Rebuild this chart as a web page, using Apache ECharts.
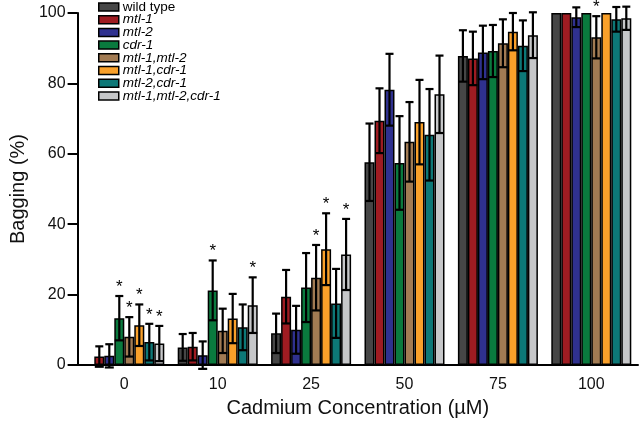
<!DOCTYPE html>
<html>
<head>
<meta charset="utf-8">
<script src="https://cdn.jsdelivr.net/npm/echarts@6/dist/echarts.min.js"></script>
<style>html,body{margin:0;padding:0;background:#fff;}#c{width:640px;height:423px;}</style>
</head>
<body>
<div id="c"></div>
<script>
const categories = ['0', '10', '25', '50', '75', '100'];
const yTicks = [0, 20, 40, 60, 80, 100];

const names = ['wild type', 'mtl-1', 'mtl-2', 'cdr-1', 'mtl-1,mtl-2', 'mtl-1,cdr-1', 'mtl-2,cdr-1', 'mtl-1,mtl-2,cdr-1'];
const colors = ['#464646', '#9f1c22', '#2f318f', '#0a7a3e', '#a27b53', '#f9a02a', '#0d7877', '#c6c7c9'];

const wildType     = [0, 5.0, 9.0, 57.6, 87.8, 100];
const wildTypeErr  = [0, 3.8, 5.6, 11.0, 7.3, 0];
const mtl1         = [2.4, 5.2, 19.4, 69.4, 87.1, 100];
const mtl1Err      = [2.9, 3.9, 7.6, 9.2, 7.6, 0];
const mtl2         = [2.6, 2.8, 10.0, 78.2, 88.8, 98.8];
const mtl2Err      = [3.3, 3.9, 6.8, 10.2, 7.6, 2.8];
const cdr1         = [13.3, 21.2, 22.0, 57.4, 89.2, 100];
const cdr1Err      = [6.3, 8.5, 9.8, 13.3, 7.4, 0];
const mtl1mtl2     = [8.0, 9.7, 24.8, 63.4, 91.4, 93.1];
const mtl1mtl2Err  = [5.6, 6.3, 9.3, 11.3, 6.8, 6.0];
const mtl1cdr1     = [11.3, 13.2, 32.9, 69.0, 94.7, 100];
const mtl1cdr1Err  = [5.9, 7.0, 10.2, 12.0, 5.3, 0];
const mtl2cdr1     = [6.5, 10.7, 17.5, 65.4, 90.7, 98.2];
const mtl2cdr1Err  = [5.2, 6.5, 9.8, 13.0, 7.2, 3.5];
const triple       = [6.1, 17.0, 31.4, 76.9, 93.7, 98.5];
const tripleErr    = [5.0, 7.9, 10.1, 11.0, 6.5, 3.3];

// significance marks (1 = asterisk) per category
const wildTypeSig = [0, 0, 0, 0, 0, 0];
const mtl1Sig     = [0, 0, 0, 0, 0, 0];
const mtl2Sig     = [0, 0, 0, 0, 0, 0];
const cdr1Sig     = [1, 1, 0, 0, 0, 0];
const mtl1mtl2Sig = [1, 0, 1, 0, 0, 1];
const mtl1cdr1Sig = [1, 0, 1, 0, 0, 0];
const mtl2cdr1Sig = [1, 0, 0, 0, 0, 0];
const tripleSig   = [1, 1, 1, 0, 0, 0];

const means = [wildType, mtl1, mtl2, cdr1, mtl1mtl2, mtl1cdr1, mtl2cdr1, triple];
const errs = [wildTypeErr, mtl1Err, mtl2Err, cdr1Err, mtl1mtl2Err, mtl1cdr1Err, mtl2cdr1Err, tripleErr];
const sigs = [wildTypeSig, mtl1Sig, mtl2Sig, cdr1Sig, mtl1mtl2Sig, mtl1cdr1Sig, mtl2cdr1Sig, tripleSig];

const BAR_W = 10;
const FONT = 'Liberation Sans, Arial, sans-serif';

const errData = [];
means.forEach((arr, s) => {
  arr.forEach((v, c) => {
    errData.push([c, v, errs[s][c], s, sigs[s][c]]);
  });
});

const barSeries = names.map((n, i) => ({
  name: n,
  type: 'bar',
  data: means[i],
  barWidth: BAR_W,
  barGap: '0%',
  itemStyle: { color: colors[i], borderColor: '#000', borderWidth: 1.5 },
  emphasis: { disabled: true },
  z: 2
}));

const errSeries = {
  type: 'custom',
  name: 'errors',
  data: errData,
  encode: { x: 0, y: 1 },
  z: 5,
  clip: false,
  silent: true,
  renderItem: function (params, api) {
    const c = api.value(0), m = api.value(1), e = api.value(2), s = api.value(3), sig = api.value(4);
    const cx = api.coord([c, 0])[0] + (s - 3.5) * BAR_W;
    const children = [];
    const yT = api.coord([c, m + e])[1];
    const yB = api.coord([c, m - e])[1];
    const st = { stroke: '#000', lineWidth: 2.2 };
    if (e > 0) {
      children.push({ type: 'line', shape: { x1: cx, y1: yT, x2: cx, y2: yB }, style: st });
      children.push({ type: 'line', shape: { x1: cx - 4, y1: yT, x2: cx + 4, y2: yT }, style: st });
      children.push({ type: 'line', shape: { x1: cx - 4.5, y1: yB, x2: cx + 4.5, y2: yB }, style: st });
    }
    if (sig) {
      children.push({
        type: 'text',
        style: { text: '*', x: cx, y: yT - 9, textAlign: 'center', textVerticalAlign: 'middle', fontSize: 17, fontFamily: FONT, fill: '#000' }
      });
    }
    return { type: 'group', children: children };
  }
};

const chart = echarts.init(document.getElementById('c'), null, { renderer: 'canvas' });
chart.setOption({
  animation: false,
  backgroundColor: '#fff',
  grid: { left: 72, right: 2, top: 13, bottom: 57, containLabel: false },
  legend: {
    data: names,
    orient: 'vertical',
    left: 98,
    top: 0,
    padding: 0,
    itemWidth: 20,
    itemHeight: 8,
    itemGap: -1.3,
    icon: 'rect',
    selectedMode: false,
    itemStyle: { borderColor: '#000', borderWidth: 1.5 },
    textStyle: { fontFamily: FONT, fontSize: 13.5, color: '#000', lineHeight: 12.7, padding: [0, 0, 0, -1],
      rich: { i: { fontStyle: 'italic', fontFamily: FONT, fontSize: 13.5, lineHeight: 12.7, color: '#000' } } },
    formatter: function (n) { return n === 'wild type' ? n : '{i|' + n + '}'; }
  },
  xAxis: {
    type: 'category',
    data: categories,
    name: 'Cadmium Concentration (µM)',
    nameLocation: 'middle',
    nameGap: 33,
    nameTextStyle: { fontFamily: FONT, fontSize: 20, color: '#111' },
    axisLine: { lineStyle: { color: '#000', width: 2 } },
    axisTick: { show: false },
    axisLabel: { fontFamily: FONT, fontSize: 16, color: '#111', margin: 12 },
    splitLine: { show: false }
  },
  yAxis: {
    type: 'value',
    min: yTicks[0],
    max: yTicks[yTicks.length - 1],
    interval: yTicks[1] - yTicks[0],
    name: 'Bagging (%)',
    nameLocation: 'middle',
    nameRotate: 90,
    nameGap: 38,
    nameTextStyle: { fontFamily: FONT, fontSize: 20, color: '#111' },
    axisLine: { show: true, lineStyle: { color: '#000', width: 2 } },
    axisTick: { show: true, inside: false, length: 10, lineStyle: { color: '#000', width: 2 } },
    axisLabel: { fontFamily: FONT, fontSize: 16, color: '#111', margin: 12 },
    splitLine: { show: false }
  },
  series: barSeries.concat([errSeries])
});
</script>
</body>
</html>
